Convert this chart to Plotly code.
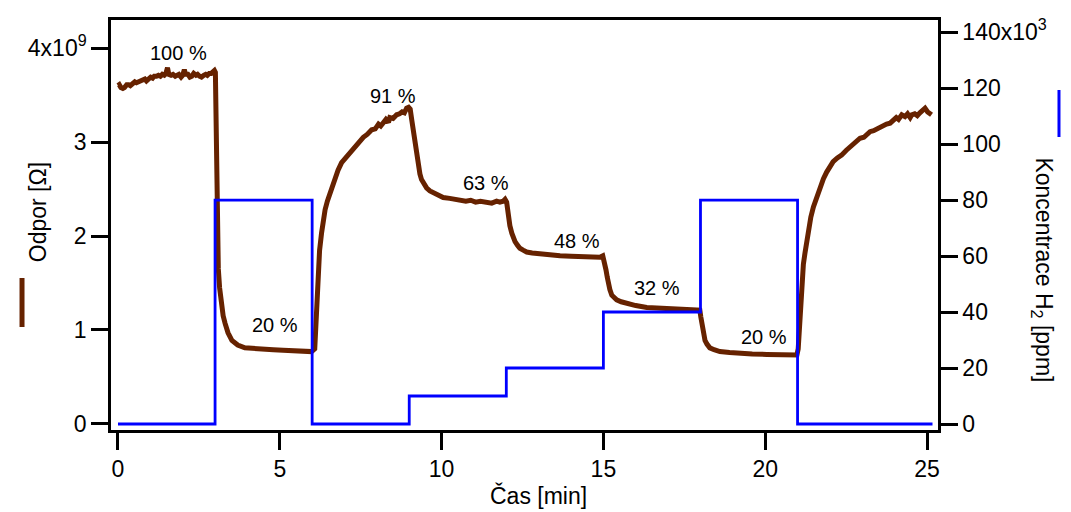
import numpy as np
import plotly.graph_objects as go

# Sensor resistance response (time in min, resistance in 10^9 Ohm)
time_min = [
    0.00, 0.04, 0.09, 0.15, 0.20, 0.27, 0.33, 0.38, 0.45, 0.52, 0.57, 0.63, 0.70,
    0.76, 0.83, 0.88, 0.95, 1.01, 1.07, 1.12, 1.19, 1.25, 1.31, 1.37, 1.43, 1.48,
    1.53, 1.57, 1.64, 1.70, 1.77, 1.83, 1.88, 1.95, 2.00, 2.05, 2.09, 2.16, 2.22,
    2.28, 2.34, 2.41, 2.46, 2.52, 2.58, 2.65, 2.71, 2.76, 2.82, 2.88, 2.94, 2.98,
    3.01, 3.04, 3.07, 3.10, 3.14, 3.19, 3.25, 3.31, 3.40, 3.52, 3.70, 3.92, 4.20,
    4.50, 4.80, 5.10, 5.40, 5.70, 5.98,
    6.08, 6.12, 6.15, 6.18, 6.23, 6.29, 6.34, 6.40, 6.47, 6.55, 6.63, 6.71, 6.80,
    6.91, 7.03, 7.17, 7.30, 7.40, 7.48, 7.58, 7.70, 7.84, 7.95, 8.05, 8.12, 8.19,
    8.28, 8.36, 8.40, 8.50, 8.61, 8.70, 8.78, 8.85, 8.92, 8.98, 9.03,
    9.08, 9.13, 9.18, 9.23, 9.28, 9.33, 9.38, 9.46, 9.54, 9.64, 9.74, 9.90, 10.05,
    10.25, 10.40, 10.57, 10.75, 10.90, 11.05, 11.20, 11.39, 11.55, 11.70, 11.80,
    11.90, 11.96, 12.01,
    12.06, 12.11, 12.17, 12.22, 12.27, 12.35, 12.42, 12.52, 12.63, 12.80, 13.04,
    13.30, 13.66, 14.00, 14.28, 14.60, 14.89, 14.98,
    15.04, 15.08, 15.12, 15.15, 15.20, 15.26, 15.33, 15.41, 15.55, 15.72, 16.00,
    16.34, 16.70, 17.16, 17.50, 17.93, 17.98,
    18.01, 18.04, 18.07, 18.10, 18.14, 18.20, 18.29, 18.42, 18.60, 18.90, 19.22,
    19.60, 20.05, 20.50, 20.92, 20.98,
    21.02, 21.05, 21.08, 21.13, 21.18, 21.23, 21.33, 21.41, 21.49, 21.59, 21.69,
    21.80, 21.90, 22.00, 22.10, 22.23, 22.36, 22.50, 22.62, 22.75, 22.85, 22.93,
    23.05, 23.15, 23.24, 23.35, 23.45, 23.55, 23.65, 23.75, 23.86, 23.95, 24.05,
    24.12, 24.22, 24.32, 24.40, 24.48, 24.53, 24.62, 24.70, 24.78, 24.86, 24.94,
    25.02, 25.08, 25.14,
]
resistance_g = [
    3.60, 3.61, 3.58, 3.57, 3.58, 3.61, 3.61, 3.60, 3.62, 3.64, 3.63, 3.64, 3.66,
    3.66, 3.67, 3.65, 3.68, 3.69, 3.68, 3.70, 3.70, 3.71, 3.70, 3.72, 3.71, 3.73,
    3.79, 3.72, 3.71, 3.72, 3.70, 3.71, 3.72, 3.69, 3.71, 3.77, 3.72, 3.72, 3.69,
    3.70, 3.73, 3.71, 3.72, 3.70, 3.69, 3.71, 3.72, 3.71, 3.73, 3.73, 3.75, 3.76,
    3.74, 2.90, 2.10, 1.65, 1.45, 1.28, 1.15, 1.07, 0.97, 0.89, 0.84, 0.81, 0.80,
    0.795, 0.79, 0.785, 0.78, 0.775, 0.77,
    0.80, 1.05, 1.35, 1.61, 1.85, 2.03, 2.16, 2.28, 2.37, 2.46, 2.55, 2.63, 2.70,
    2.78, 2.83, 2.88, 2.95, 2.98, 3.02, 3.05, 3.08, 3.13, 3.14, 3.19, 3.17, 3.21,
    3.24, 3.21, 3.26, 3.25, 3.29, 3.30, 3.32, 3.31, 3.36, 3.37, 3.35,
    3.23, 3.11, 2.99, 2.86, 2.73, 2.66, 2.60, 2.55, 2.51, 2.48, 2.46, 2.43, 2.41,
    2.40, 2.39, 2.38, 2.37, 2.38, 2.36, 2.37, 2.36, 2.35, 2.37, 2.36,
    2.37, 2.39, 2.36,
    2.21, 2.11, 2.03, 1.98, 1.94, 1.90, 1.87, 1.85, 1.83, 1.82, 1.81,
    1.80, 1.79, 1.785, 1.78, 1.78, 1.775, 1.79,
    1.72, 1.64, 1.56, 1.50, 1.43, 1.37, 1.34, 1.32, 1.30, 1.28, 1.26,
    1.24, 1.235, 1.23, 1.225, 1.22, 1.21,
    1.14, 1.06, 1.00, 0.94, 0.89, 0.85, 0.81, 0.79, 0.77, 0.76, 0.75,
    0.745, 0.74, 0.735, 0.73, 0.735,
    0.80, 1.00, 1.18, 1.53, 1.70, 1.82, 2.06, 2.20, 2.31, 2.42, 2.52,
    2.61, 2.68, 2.74, 2.79, 2.83, 2.86, 2.91, 2.95, 2.98, 3.02, 3.04,
    3.05, 3.09, 3.11, 3.12, 3.14, 3.16, 3.17, 3.19, 3.20, 3.23, 3.26,
    3.24, 3.29, 3.27, 3.30, 3.26, 3.29, 3.30, 3.28, 3.31, 3.33, 3.36,
    3.32, 3.30, 3.29,
]

# Hydrogen concentration steps (ppm)
h2_time = [0, 3, 6, 9, 12, 15, 18, 21, 25.17]
h2_ppm = [0, 80e3, 0, 10e3, 20e3, 40e3, 80e3, 0, 0]

# Response labels
label_text = ["100 %", "20 %", "91 %", "63 %", "48 %", "32 %", "20 %"]
label_t = [1.86, 4.86, 8.51, 11.36, 14.18, 16.66, 19.97]
label_r = [3.95, 1.05, 3.49, 2.56, 1.95, 1.45, 0.93]

x_ticks = [0, 5, 10, 15, 20, 25]
left_ticks = [0, 1e9, 2e9, 3e9, 4e9]
left_ticktext = ["0", "1", "2", "3", "4x10<sup>9</sup>"]
right_ticks = [0, 20e3, 40e3, 60e3, 80e3, 100e3, 120e3, 140e3]
right_ticktext = ["0", "20", "40", "60", "80", "100", "120", "140x10<sup>3</sup>"]

BROWN = "#662200"
BLUE = "#0000ff"
FONT = "Liberation Sans, Arial, sans-serif"

resistance = np.array(resistance_g) * 1e9

fig = go.Figure()
fig.add_trace(go.Scatter(
    x=h2_time, y=h2_ppm, mode="lines", line=dict(color=BLUE, width=2.8, shape="hv"),
    yaxis="y2", name="Koncentrace H2",
))
fig.add_trace(go.Scatter(
    x=time_min, y=resistance, mode="lines", line=dict(color=BROWN, width=5),
    name="Odpor",
))

for txt, t, r in zip(label_text, label_t, label_r):
    fig.add_annotation(x=t, y=r * 1e9, text=txt, showarrow=False,
                       font=dict(size=20, color="black", family=FONT))

axis_common = dict(
    showline=True, linecolor="black", linewidth=2.5, ticks="outside",
    ticklen=17, tickwidth=2.5, tickcolor="black", showgrid=False, zeroline=False,
    tickfont=dict(size=23, color="black", family=FONT),
)

fig.update_layout(
    width=1071, height=512,
    margin=dict(l=111, r=133, t=20, b=82),
    paper_bgcolor="white", plot_bgcolor="white",
    showlegend=False,
    font=dict(family=FONT, color="black"),
    xaxis=dict(range=[-0.216, 25.34], tickvals=x_ticks, mirror=True, **axis_common),
    yaxis=dict(range=[-0.064e9, 4.298e9], tickvals=left_ticks, ticktext=left_ticktext,
               mirror=True, **axis_common),
    yaxis2=dict(range=[-2.14e3, 144.3e3], tickvals=right_ticks, ticktext=right_ticktext,
                overlaying="y", side="right", **axis_common),
)

# Axis titles
fig.add_annotation(xref="paper", yref="paper", x=0.517, y=-0.16, yanchor="middle",
                   text="Čas [min]", showarrow=False,
                   font=dict(size=23, color="black", family=FONT))
fig.add_annotation(xref="paper", yref="paper", x=-0.106, y=0.532, textangle=-90,
                   text="Odpor [Ω]", showarrow=False,
                   font=dict(size=23, color="black", family=FONT))
fig.add_annotation(xref="paper", yref="paper", x=1.146, y=0.391, textangle=90,
                   text="Koncentrace H<sub>2</sub> [ppm]", showarrow=False,
                   font=dict(size=23, color="black", family=FONT))

# Line keys next to the axis titles
fig.add_shape(type="line", xref="paper", yref="paper", x0=-0.1076, x1=-0.1076,
              y0=0.2512, y1=0.3707, line=dict(color=BROWN, width=5))
fig.add_shape(type="line", xref="paper", yref="paper", x0=1.1463, x1=1.1463,
              y0=0.7146, y1=0.8293, line=dict(color=BLUE, width=3))

fig.write_html("out.html")
